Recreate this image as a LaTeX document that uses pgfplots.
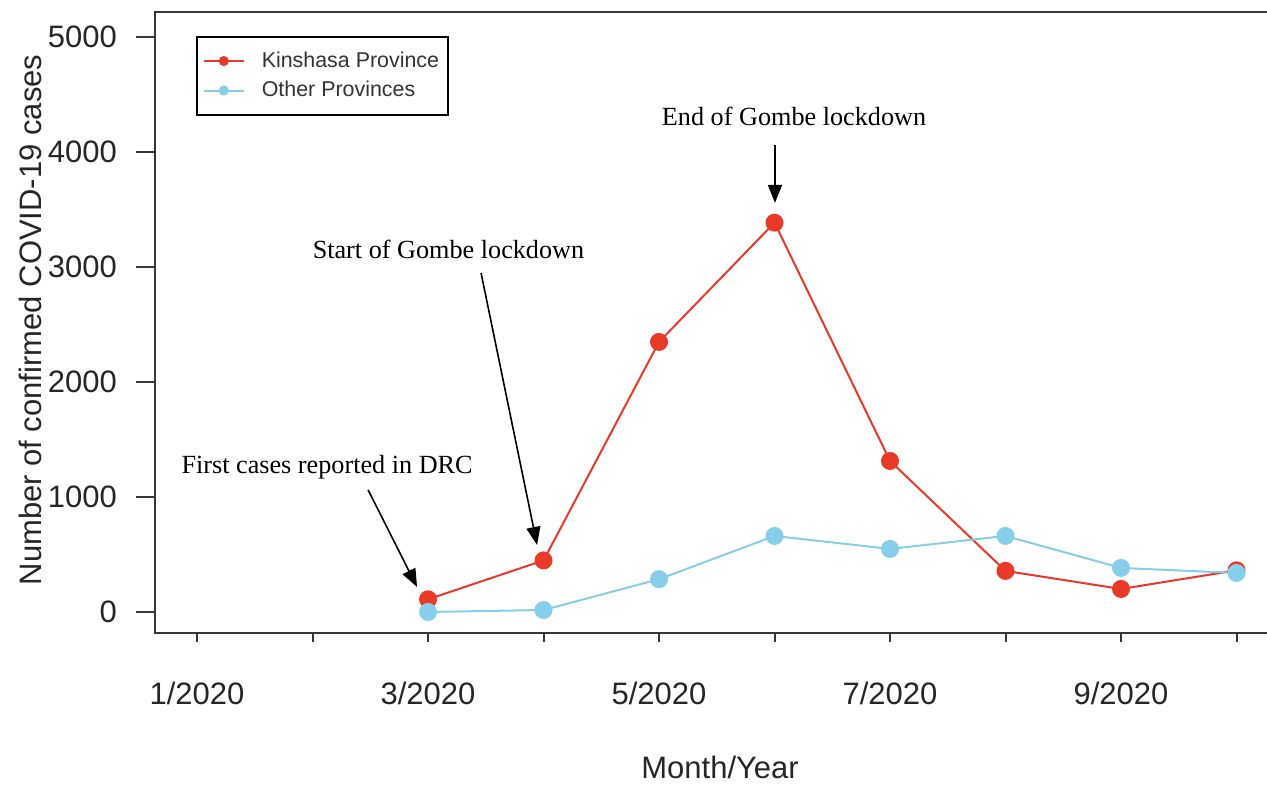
\documentclass[border=0pt]{standalone}
\usepackage{pgfplots}
\pgfplotsset{compat=1.18}
\usepackage{fontspec}
\setmainfont{Liberation Sans}
\newfontfamily\timesfont{Liberation Serif}
\usetikzlibrary{arrows.meta}
\definecolor{kinred}{RGB}{233,57,40}
\definecolor{othblue}{RGB}{135,206,235}
\definecolor{axgray}{RGB}{55,55,55}

\begin{document}
\begin{tikzpicture}
\begin{axis}[
  scale only axis,
  width=569.6pt, height=310.5pt,
  xmin=0.636, xmax=10.5, ymin=-183, ymax=5217,
  axis line style={axgray, line width=1pt},
  tick align=outside, tick pos=left,
  major tick length=9.5pt,
  tick style={axgray, line width=1pt},
  xtick style={/pgfplots/major tick length=4.5pt},
  xtick={1,...,10},
  xticklabels={1/2020,,3/2020,,5/2020,,7/2020,,9/2020,},
  ytick={0,1000,...,5000},
  /pgf/number format/1000 sep={},
  /pgf/number format/assume math mode=true,
  ticklabel style={font=\fontsize{15.5}{18}\selectfont, text=black!85},
  xticklabel style={yshift=-11.5pt},
  yticklabel style={xshift=-6pt},
  xlabel={Month/Year},
  ylabel={Number of confirmed COVID-19 cases},
  label style={font=\fontsize{15.5}{18}\selectfont, text=black!85},
  xlabel style={at={(axis description cs:0.496,-0.234)}, anchor=base},
  ylabel style={at={(axis description cs:-0.1097,0.504)}, anchor=center, rotate=0},
  legend style={at={(axis description cs:0.036,0.9614)}, anchor=north west,
    font=\fontsize{10.7}{13}\selectfont, draw=black, line width=0.8pt,
    inner xsep=3pt, inner ysep=6pt, row sep=2.5pt,
    nodes={inner sep=1.5pt, text=black!80}},
  legend cell align=left,
  legend image code/.code={\draw[mark repeat=2,mark phase=2,#1] plot coordinates {(0pt,0pt) (10pt,0pt) (20pt,0pt)};\path (27pt,0pt);},
  legend image post style={mark size=2pt},
  clip=false,
]
\addplot[color=kinred, line width=1pt, mark=*, mark size=4pt, mark options={solid}]
  coordinates {(3,110) (4,448) (5,2348) (6,3385) (7,1313) (8,357) (9,200) (10,362)};
\addlegendentry{Kinshasa Province}
\addplot[color=othblue, line width=1pt, mark=*, mark size=4pt, mark options={solid}]
  coordinates {(3,0) (4,17) (5,285) (6,661) (7,548) (8,661) (9,383) (10,339)};
\addlegendentry{Other Provinces}

\node[font=\timesfont\fontsize{13.1}{15}\selectfont, anchor=base] at (axis cs:6.169,4226) {End of Gombe lockdown};
\node[font=\timesfont\fontsize{13.1}{15}\selectfont, anchor=base] at (axis cs:3.177,3070) {Start of Gombe lockdown};
\node[font=\timesfont\fontsize{13.1}{15}\selectfont, anchor=base] at (axis cs:2.126,1200) {First cases reported in DRC};
\draw[line width=0.8pt, -{Triangle[length=9pt,width=7pt]}] (axis cs:6.004,4061) -- (axis cs:6.004,3557);
\draw[line width=0.8pt, -{Triangle[length=9pt,width=7pt]}] (axis cs:3.459,2948) -- (axis cs:3.944,583);
\draw[line width=0.8pt, -{Triangle[length=9pt,width=7pt]}] (axis cs:2.481,1061) -- (axis cs:2.905,217);

\coordinate (bl) at (axis cs:0.636,-183);
\coordinate (tr) at (axis cs:10.264,5217);
\end{axis}
\pgfresetboundingbox
\path[use as bounding box] ([xshift=-77.5pt,yshift=-75.5pt]bl) rectangle ([yshift=6pt]tr);
\end{tikzpicture}
\end{document}
